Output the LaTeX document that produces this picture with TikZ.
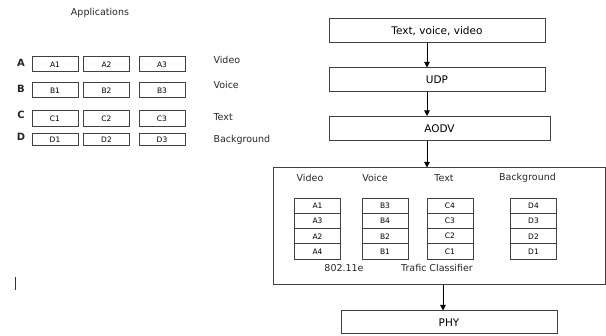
\documentclass[tikz,border=0pt]{standalone}
\usepackage{fontspec}
\setmainfont{DejaVu Sans}
\usetikzlibrary{arrows.meta,positioning}
\tikzset{
  layerbox/.style={draw, minimum width=216pt, minimum height=24pt,
                   inner sep=0pt, font=\fontsize{10.5}{12}\selectfont,
                   line width=1pt, draw=black!75},
  frame/.style   ={draw, minimum width=332pt, minimum height=117pt,
                   inner sep=0pt, line width=1pt, draw=black!75},
  appbox/.style  ={draw, minimum width=46pt, minimum height=15pt,
                   inner sep=0pt, font=\fontsize{7.5}{8}\selectfont,
                   line width=1pt, draw=black!75},
  qcell/.style   ={draw, minimum width=46pt, minimum height=15.3pt,
                   inner sep=0pt, font=\fontsize{7.5}{8}\selectfont,
                   line width=0.8pt, draw=black!75},
  rowlab/.style  ={font=\fontsize{10}{12}\selectfont\bfseries, text=black!85},
  lab/.style     ={font=\fontsize{9.5}{11}\selectfont, text=black!85},
  flow/.style    ={-{Triangle[length=5.5pt,width=5.5pt]}, line width=1pt},
}
\begin{document}
\begin{tikzpicture}[x=1pt,y=-1pt]
  \useasboundingbox (0,0) rectangle (606,336);
  % applications
  \node[lab] (apps) at (100,13) {Applications};
  \node[rowlab] (ra) at (21,63) {A};
  \node[rowlab] (rb) at (21,89) {B};
  \node[rowlab] (rc) at (21,115) {C};
  \node[rowlab] (rd) at (21,137) {D};
  \node[appbox] (a1) at (55,64.5) {A1};
  \node[appbox] (a2) at (106.5,64.5) {A2};
  \node[appbox] (a3) at (162,64.5) {A3};
  \node[appbox] (b1) at (55,90.5) {B1};
  \node[appbox] (b2) at (106.5,90.5) {B2};
  \node[appbox] (b3) at (162,90.5) {B3};
  \node[appbox, minimum height=16pt] (c1) at (55,118.5) {C1};
  \node[appbox, minimum height=16pt] (c2) at (106.5,118.5) {C2};
  \node[appbox, minimum height=16pt] (c3) at (162,118.5) {C3};
  \node[appbox, minimum height=12pt] (d1) at (55,140) {D1};
  \node[appbox, minimum height=12pt] (d2) at (106.5,140) {D2};
  \node[appbox, minimum height=12pt] (d3) at (162,140) {D3};
  \node[lab, anchor=west] (tva) at (210,60) {Video};
  \node[lab, anchor=west] (tvb) at (210,85) {Voice};
  \node[lab, anchor=west] (tvc) at (210,117) {Text};
  \node[lab, anchor=west] (tvd) at (210,140) {Background};
  % protocol stack
  \coordinate (ax) at (427,0);
  \coordinate (bx) at (443,0);
  \node[layerbox] (tvv) at (437,31) {Text, voice, video};
  \node[layerbox] (udp) at (437,80) {UDP};
  \node[layerbox, minimum width=221pt] (aodv) at (439.5,128.5) {AODV};
  \node[frame] (mac) at (439,226.5) {};
  \node[layerbox, minimum height=23pt] (phy) at (449,322.5) {PHY};
  \draw[flow] (tvv.south -| ax) -- (udp.north -| ax);
  \draw[flow] (udp.south -| ax) -- (aodv.north -| ax);
  \draw[flow] (aodv.south -| ax) -- (mac.north -| ax);
  \draw[flow] (mac.south -| bx) -- (phy.north -| bx);
  % queues
  \node[lab] (hv) at (310,178) {Video};
  \node[lab] (ho) at (375,178) {Voice};
  \node[lab] (ht) at (444,178) {Text};
  \node[lab] (hb) at (527.5,178) {Background};
  \node[qcell] (qa1) at (317.5,205.65) {A1};
  \node[qcell] (qa2) at (317.5,220.95) {A3};
  \node[qcell] (qa3) at (317.5,236.25) {A2};
  \node[qcell] (qa4) at (317.5,251.55) {A4};
  \node[qcell] (qb1) at (385,205.65) {B3};
  \node[qcell] (qb2) at (385,220.95) {B4};
  \node[qcell] (qb3) at (385,236.25) {B2};
  \node[qcell] (qb4) at (385,251.55) {B1};
  \node[qcell] (qc1) at (450,205.65) {C4};
  \node[qcell] (qc2) at (450,220.95) {C3};
  \node[qcell] (qc3) at (450,236.25) {C2};
  \node[qcell] (qc4) at (450,251.55) {C1};
  \node[qcell] (qd1) at (533.5,205.65) {D4};
  \node[qcell] (qd2) at (533.5,220.95) {D3};
  \node[qcell] (qd3) at (533.5,236.25) {D2};
  \node[qcell] (qd4) at (533.5,251.55) {D1};
  \node[lab] (std) at (344,268) {802.11e};
  \node[lab] (cls) at (437,268) {Trafic Classifier};
  % stray cursor mark
  \draw[line width=1.3pt, black!80] (15.5,277) -- (15.5,290);
\end{tikzpicture}
\end{document}
